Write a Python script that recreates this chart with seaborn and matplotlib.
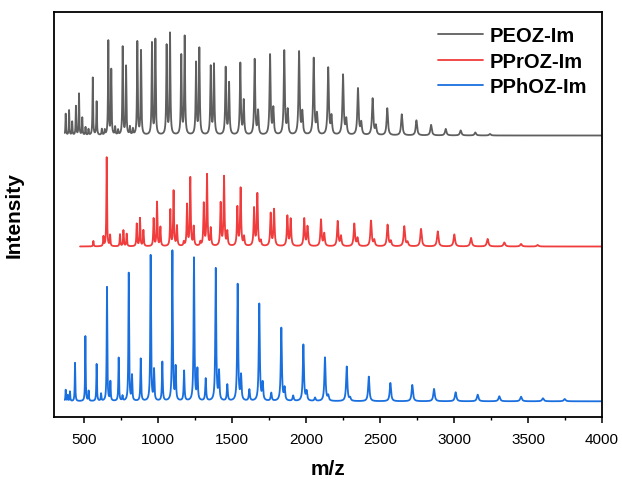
import numpy as np
import pandas as pd
import matplotlib
matplotlib.use("Agg")
import matplotlib.pyplot as plt
import seaborn as sns
from matplotlib.ticker import MultipleLocator

# ---- data (peak m/z, peak height above baseline) ----
series_names = ["PEOZ-Im", "PPrOZ-Im", "PPhOZ-Im"]

peoz_mz = [376, 399, 420, 445, 466, 488, 510, 530, 559, 585, 620, 640, 664, 684, 710, 730,
           761, 784, 810, 830, 860, 885, 959, 982, 1058, 1081, 1157, 1180, 1257, 1279,
           1356, 1378, 1457, 1480, 1556, 1579, 1653, 1676, 1757, 1779, 1853, 1876,
           1953, 1975, 2052, 2074, 2150, 2172, 2250, 2272, 2351, 2373, 2450, 2472,
           2549, 2647, 2746, 2845, 2944, 3045, 3144, 3243]
peoz_int = [21.5, 25, 13.5, 29, 41.5, 17.5, 8, 6, 57.5, 33.5, 6, 5, 94, 65, 8, 5,
            88, 68.5, 8, 6, 93, 84, 91.5, 95, 89, 101, 79, 98, 71.5, 86,
            68, 70, 67, 51.5, 71.5, 34, 75.5, 23.5, 80, 26, 84, 24,
            83, 22, 76.5, 20, 67, 18, 60, 15, 46.5, 12, 36.5, 9,
            27, 21, 15, 10.5, 6.5, 5, 3, 1.5]

pproz_mz = [563, 631, 653, 676, 743, 766, 788, 856, 878, 901, 970, 993, 1016, 1083, 1105,
            1128, 1174, 1196, 1218, 1241, 1286, 1309, 1331, 1356, 1423, 1446, 1468, 1536,
            1558, 1581, 1649, 1671, 1694, 1761, 1784, 1874, 1896, 1988, 2010, 2101, 2123,
            2214, 2236, 2326, 2348, 2439, 2461, 2551, 2573, 2664, 2686, 2777, 2890, 3002,
            3115, 3227, 3340, 3453, 3565]
pproz_int = [5.5, 9.5, 89, 11, 12, 16, 12.5, 22.5, 28, 16, 27.5, 44, 19, 36, 55,
             20, 4, 41, 68, 19, 4, 42, 71, 17.5, 42.5, 69, 14, 38.5,
             57.5, 9, 37.5, 52, 5, 32.5, 36.5, 30, 27, 27.5, 19.5, 26.5, 12.5,
             25, 10, 22.5, 8, 25.5, 6, 21.5, 5, 20, 4, 17.5, 15, 12,
             8.5, 7.5, 4, 2.5, 1.5]

pphoz_mz = [376, 390, 405, 439, 509, 531, 585, 615, 655, 678, 734, 760, 802, 824, 883,
            950, 973, 1029, 1097, 1119, 1176, 1243, 1266, 1322, 1390, 1412, 1468, 1538,
            1561, 1617, 1684, 1707, 1765, 1833, 1855, 1913, 1982, 2004, 2061, 2128, 2150,
            2275, 2298, 2424, 2570, 2718, 2865, 3011, 3160, 3306, 3453, 3601, 3748]
pphoz_int = [11.3, 6, 9.6, 38.3, 65, 10, 37, 7.3, 114, 19, 43.3, 5, 128, 25, 42.3,
             145.6, 30.6, 39, 150, 33, 30, 143, 30.6, 22.3, 132.3, 28.3, 16.3, 116.6,
             24.6, 11.3, 97, 17.3, 8, 73, 12.3, 5.3, 56.3, 9, 3.3, 43.6, 5,
             34.6, 3, 24.6, 18.3, 16.3, 12.3, 9, 6.6, 5, 4.6, 3, 2.3]

mz_start = [370, 473, 370]
mz_end = 4000

# ---- styling / layout ----
colors = ["#5f5f5f", "#f03c3c", "#1a6fdf"]
offsets = [281.5, 170.5, 15.7]

def spectrum(mz, inten, start, offset):
    x = np.arange(start, mz_end + 0.5, 0.5)
    y = np.full_like(x, offset, dtype=float)
    for m, h in zip(mz, inten):
        g = 1.5 + 0.0015 * m
        y += h * g * g / ((x - m) ** 2 + g * g)
    return x, y

frames = []
for name, mz, inten, s, off in zip(series_names, [peoz_mz, pproz_mz, pphoz_mz],
                                   [peoz_int, pproz_int, pphoz_int], mz_start, offsets):
    x, y = spectrum(mz, inten, s, off)
    frames.append(pd.DataFrame({"mz": x, "intensity": y, "sample": name}))
df = pd.concat(frames, ignore_index=True)

sns.set_theme(style="ticks", rc={"text.color": "black", "axes.labelcolor": "black",
                                 "xtick.color": "black", "ytick.color": "black",
                                 "axes.edgecolor": "black"})
plt.rcParams["font.family"] = ["Liberation Sans", "DejaVu Sans"]

fig = plt.figure(figsize=(6.22, 4.81), dpi=100)
ax = fig.add_axes([54 / 622, 63 / 481, 548 / 622, 405 / 481])

sns.lineplot(data=df, x="mz", y="intensity", hue="sample", palette=colors,
             hue_order=series_names, estimator=None, sort=False, linewidth=1.3, ax=ax)

ax.set_xlim(297, 4000)
ax.set_ylim(0, 405)
ax.set_yticks([])
ax.xaxis.set_major_locator(MultipleLocator(500))
ax.xaxis.set_minor_locator(MultipleLocator(250))
ax.tick_params(axis="x", which="major", direction="out", length=4, width=1.1,
               labelsize=11, pad=7, color="black", labelcolor="black")
ax.tick_params(axis="x", which="minor", direction="out", length=2.5, width=1.0, color="black")
for sp in ax.spines.values():
    sp.set_linewidth(1.3)
    sp.set_color("black")

ax.set_xlabel("m/z", fontsize=15, fontweight="bold", labelpad=9, color="black")
ax.set_ylabel("Intensity", fontsize=15, fontweight="bold", labelpad=22, color="black")

leg = ax.legend(loc="upper left", bbox_to_anchor=(0.700, 0.965), frameon=False,
                prop={"weight": "bold", "size": 14.5},
                handlelength=2.24, handletextpad=0.36, labelspacing=0.33,
                borderpad=0, borderaxespad=0)
for lh in leg.get_lines():
    lh.set_linewidth(1.3)
for t in leg.get_texts():
    t.set_color("black")

fig.savefig("out.png", dpi=100)
